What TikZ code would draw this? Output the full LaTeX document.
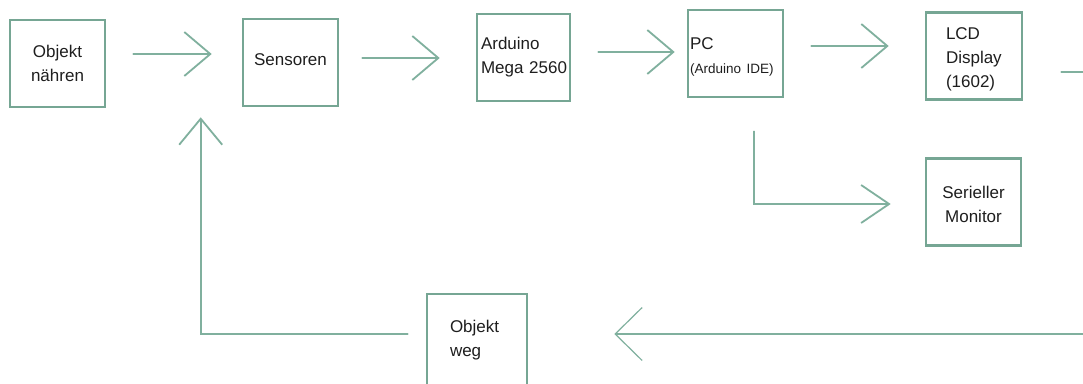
\documentclass[tikz,border=0pt]{standalone}
\usepackage{fontspec}
\setmainfont{Liberation Sans}
\usetikzlibrary{arrows.meta,calc}
\definecolor{boxc}{RGB}{118,166,148}
\definecolor{arrc}{RGB}{128,176,158}
\definecolor{txt}{RGB}{30,30,30}
\begin{document}
\begin{tikzpicture}[x=1pt,y=-1pt,
  box/.style={draw=boxc, line width=2.6pt, minimum width=95pt, minimum height=87pt,
    inner sep=0pt, font=\fontsize{17}{24}\selectfont, text=txt, align=center},
  arr/.style={draw=arrc, line width=1.8pt, line cap=round,
    -{Straight Barb[length=26pt,width=44pt,line width=1.8pt]}},
]
\clip (0,0) rectangle (1083,383);
\fill[white] (0,0) rectangle (1083,383);
% boxes
\node[box] (n1) at (57.5,63.5) {Objekt\\nähren};
\node[box, text depth=6pt] (n2) at (290.5,62.5) {Sensoren};
\node[box, minimum width=93pt, align=left, text width=85pt] (n3) at (523.5,57.5) {Arduino\\Mega~2560};
\node[box, align=left, text width=91pt, text height=18pt] (n4) at (735.5,53.5) {PC\\{\fontsize{13.5}{24}\selectfont (Arduino IDE)}};
\node[box, minimum width=96pt, align=left, text width=56pt, text height=18pt] (n5) at (974,56) {LCD\\Display\\(1602)};
\node[box, text width=80pt, text height=18pt] (n6) at (973.5,202) {Serieller\\Monitor};
\node[box, minimum width=100pt, minimum height=92pt, align=left, text width=54pt] (n7) at (477,340) {Objekt\\weg};
% connectors
\draw[arr] ([xshift=27pt,yshift=9.5pt]n1.east) -- ([xshift=-30pt,yshift=8.5pt]n2.west);
\draw[arr] ([xshift=23pt,yshift=4.5pt]n2.east) -- ([xshift=-36pt,yshift=-0.5pt]n3.west);
\draw[arr] ([xshift=27pt,yshift=5.5pt]n3.east) -- ([xshift=-12pt,yshift=1.5pt]n4.west);
\draw[arr] ([xshift=27pt,yshift=7.5pt]n4.east) -- ([xshift=-36pt,yshift=10pt]n5.west);
\draw[arr, line width=1.4pt, -{Straight Barb[length=28pt,width=38pt,line width=1.8pt]}]
  ([xshift=18.5pt,yshift=-33pt]n4.south) |- ([xshift=-34pt,yshift=-2pt]n6.west);
\draw[arr, -{Straight Barb[length=27pt,width=53pt,line width=1.2pt]}]
  ([xshift=38pt,yshift=-16pt]n5.east) -- ++(80,0) |- ([xshift=86pt,yshift=6pt]n7.east);
\draw[arr, -{Straight Barb[length=26pt,width=43pt,line width=1.8pt]}]
  ([xshift=-18pt,yshift=6pt]n7.west) -| ([xshift=-41pt,yshift=-10pt]n2.south west);
\end{tikzpicture}
\end{document}
